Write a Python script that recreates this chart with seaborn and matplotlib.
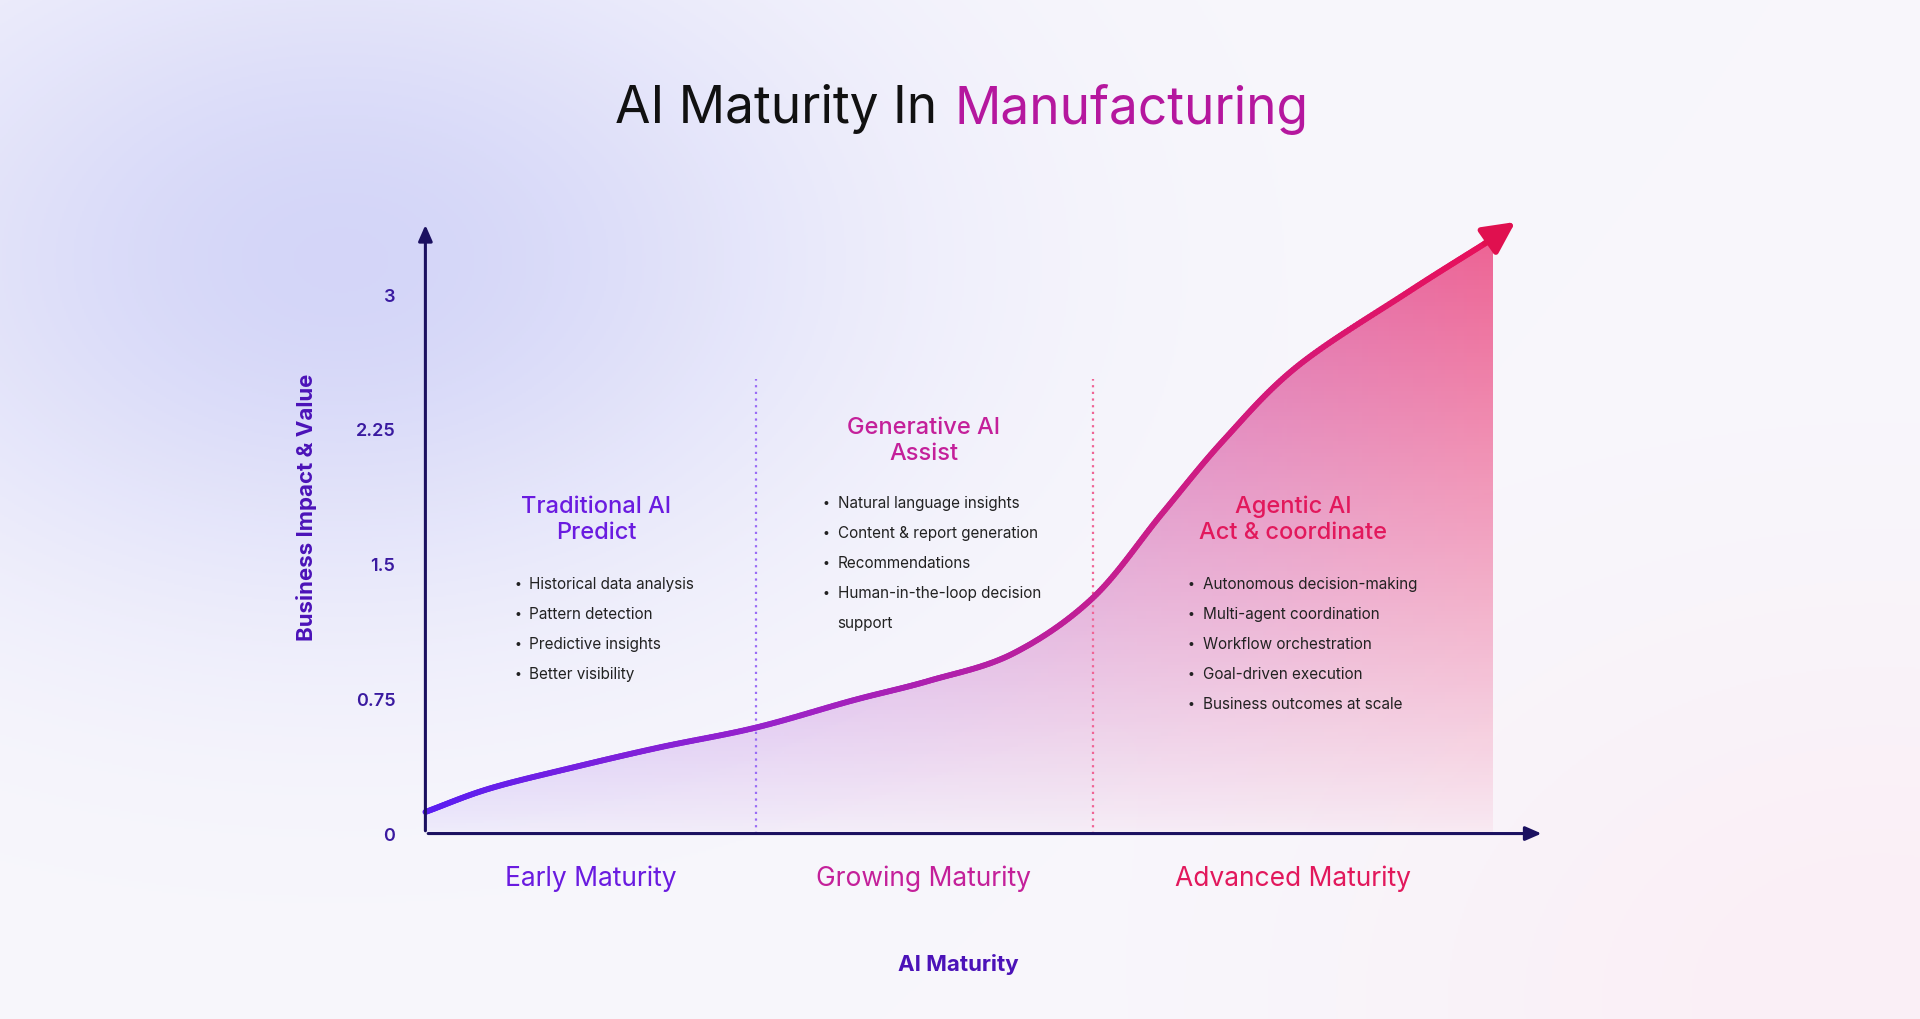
import numpy as np
import matplotlib
matplotlib.use("Agg")
import matplotlib.pyplot as plt
import seaborn as sns
import pandas as pd
from matplotlib.collections import LineCollection
from matplotlib.colors import LinearSegmentedColormap, to_rgb

# ---- data ----
curve_x = [0, 0.6, 1.4, 2.2, 3.1, 4.0, 4.72, 5.5, 6.25, 6.9, 7.48, 8.17, 9.2, 10.0]
curve_y = [0.12, 0.25, 0.37, 0.48, 0.59, 0.74, 0.85, 1.0, 1.31, 1.78, 2.19, 2.60, 3.01, 3.31]
arrow_tip = (10.23, 3.41)
y_ticks = [0, 0.75, 1.5, 2.25, 3]
y_tick_labels = ["0", "0.75", "1.5", "2.25", "3"]
dividers = [3.1, 6.25]
stage_labels = ["Early Maturity", "Growing Maturity", "Advanced Maturity"]
stage_x = [1.55, 4.67, 8.13]
phase_titles = ["Traditional AI\nPredict", "Generative AI\nAssist", "Agentic AI\nAct & coordinate"]
phase_title_pos = [(1.6, 1.75), (4.67, 2.19), (8.13, 1.75)]
bullets = [
    ["Historical data analysis", "Pattern detection", "Predictive insights", "Better visibility"],
    ["Natural language insights", "Content & report generation", "Recommendations",
     "Human-in-the-loop decision\nsupport"],
    ["Autonomous decision-making", "Multi-agent coordination", "Workflow orchestration",
     "Goal-driven execution", "Business outcomes at scale"],
]
bullet_pos = [(0.83, 1.39), (3.72, 1.84), (7.14, 1.39)]
colors = ["#6A1BE0", "#C4209A", "#E2185C"]

sns.set_theme(style="white")
plt.rcParams['font.family'] = ['Inter', 'DejaVu Sans']

fig = plt.figure(figsize=(19.2, 10.2), dpi=100)

# background
bg = fig.add_axes([0, 0, 1, 1])
H, W = 510, 960
yy, xx = np.mgrid[0:H, 0:W]
base = np.array(to_rgb("#F8F7FC"))
lav = np.array(to_rgb("#D0D2F8"))
pink = np.array(to_rgb("#FBEFF6"))
d1 = 0.9 * np.exp(-(((xx - 170) / 250.0) ** 2 + ((yy - 130) / 170.0) ** 2))
d2 = np.exp(-(((xx - 940) / 260.0) ** 2 + ((yy - 500) / 200.0) ** 2))
img = base[None, None, :] * (1 - d1[..., None]) + lav[None, None, :] * d1[..., None]
img = img * (1 - d2[..., None]) + pink[None, None, :] * d2[..., None]
bg.imshow(img, aspect='auto', extent=[0, 1, 0, 1], origin='upper')
bg.axis('off')

ax = fig.add_axes([0.216, 0.173, 0.595, 0.617])
ax.set_xlim(-0.1, 10.6)
ax.set_ylim(-0.05, 3.45)
ax.patch.set_alpha(0)
for s in ax.spines.values():
    s.set_visible(False)

# smooth curve (Catmull-Rom) for drawing
P = np.column_stack([curve_x, curve_y])
Pp = np.vstack([P[0] - (P[1] - P[0]), P, P[-1] + (P[-1] - P[-2])])
pts = []
for i in range(1, len(Pp) - 2):
    p0, p1, p2, p3 = Pp[i - 1], Pp[i], Pp[i + 1], Pp[i + 2]
    for t in np.linspace(0, 1, 40, endpoint=False):
        pts.append(0.5 * ((2 * p1) + (-p0 + p2) * t + (2 * p0 - 5 * p1 + 4 * p2 - p3) * t ** 2
                          + (-p0 + 3 * p1 - 3 * p2 + p3) * t ** 3))
pts.append(P[-1])
pts = np.array(pts)
sx, sy = pts[:, 0], pts[:, 1]

cmap = LinearSegmentedColormap.from_list("g", ["#5A1EF2", "#9B22C8", "#C81E8C", "#E8105A"])

# fill gradient
gx = np.linspace(0, 1, 400)
gy = np.linspace(0, 1, 300)
GX, GY = np.meshgrid(gx, gy)
rgba = cmap(GX)
rgba[..., 3] = 0.04 + 0.62 * GY ** 0.9
im = ax.imshow(rgba, extent=[0, 10.0, 0, 3.45], origin='lower', aspect='auto', zorder=1)
poly = np.vstack([[0, 0], pts, [10.0, 0]])
patch = plt.Polygon(poly, closed=True, transform=ax.transData, facecolor='none', edgecolor='none')
ax.add_patch(patch)
im.set_clip_path(patch)

# curve
df = pd.DataFrame({"x": sx, "y": sy})
sns.lineplot(data=df, x="x", y="y", ax=ax, color="#B020A0", lw=0.1, sort=False, zorder=2)
segs = np.stack([np.column_stack([sx[:-1], sy[:-1]]), np.column_stack([sx[1:], sy[1:]])], axis=1)
lc = LineCollection(segs, colors=cmap(sx[:-1] / 10.0), linewidth=4.2, capstyle='round', zorder=3)
ax.add_collection(lc)
ax.annotate("", xy=arrow_tip, xytext=(sx[-6], sy[-6]),
            arrowprops=dict(arrowstyle="-|>,head_length=1.6,head_width=0.8", color="#E0104F", lw=4.2),
            zorder=4)

# axes arrows
ax.annotate("", xy=(0, 3.4), xytext=(0, -0.0), arrowprops=dict(arrowstyle="-|>,head_length=0.8,head_width=0.35",
            color="#1B1060", lw=2.2), zorder=5)
ax.annotate("", xy=(10.48, 0), xytext=(0, 0), arrowprops=dict(arrowstyle="-|>,head_length=0.8,head_width=0.35",
            color="#1B1060", lw=2.2), zorder=5)

# dividers
for dx, c in zip(dividers, ["#9A6CF5", "#F06495"]):
    ax.plot([dx, dx], [0, 2.53], ls=(0, (1, 2)), color=c, lw=1.6, zorder=2)

ax.set_xticks([])
ax.set_yticks(y_ticks)
ax.set_yticklabels(y_tick_labels, color="#3A1AA0", fontsize=13, fontweight='semibold')
ax.tick_params(axis='y', length=0, pad=14)
ax.set_xlabel("")
ax.set_ylabel("")

fig.text(0.488, 0.893, "AI Maturity In", ha='right', va='center', fontsize=37, color="#111111")
fig.text(0.497, 0.893, "Manufacturing", ha='left', va='center', fontsize=37, color="#B5179E")

for (px, py), t, c in zip(phase_title_pos, phase_titles, colors):
    ax.text(px, py, t, ha='center', va='center', fontsize=17, color=c, fontweight='medium',
            linespacing=1.25)
for (bx, by), items in zip(bullet_pos, bullets):
    y = by
    for it in items:
        lines = it.split("\n")
        ax.text(bx, y, "•", ha='left', va='center', fontsize=9, color="#222222")
        for ln in lines:
            ax.text(bx + 0.14, y, ln, ha='left', va='center', fontsize=11, color="#222222")
            y -= 0.167

for sxl, lab, c in zip(stage_x, stage_labels, colors):
    ax.text(sxl, -0.245, lab, ha='center', va='center', fontsize=19, color=c)
ax.text(4.99, -0.72, "AI Maturity", ha='center', va='center', fontsize=16, fontweight='bold',
        color="#4B12B8")
ax.text(-1.11, 1.82, "Business Impact & Value", ha='center', va='center', rotation=90,
        fontsize=16, fontweight='bold', color="#4B12B8")

fig.savefig("out.png", dpi=100)
